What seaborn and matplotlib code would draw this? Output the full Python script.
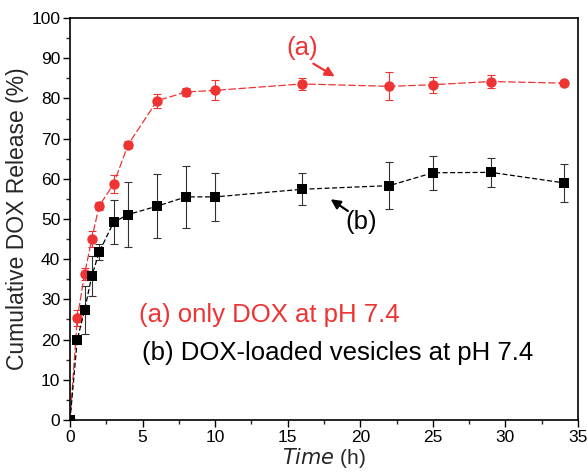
import numpy as np
import pandas as pd
import seaborn as sns
import matplotlib.pyplot as plt
from matplotlib.ticker import MultipleLocator

# Dane
time_h = [0, 0.5, 1, 1.5, 2, 3, 4, 6, 8, 10, 16, 22, 25, 29, 34]
release_a = [0, 25.3, 36.3, 45.0, 53.2, 58.7, 68.5, 79.4, 81.6, 82.0, 83.6, 83.0, 83.4, 84.2, 83.8]
err_a = [0.5, 2.0, 1.5, 2.0, 1.0, 2.2, 0.8, 1.8, 1.0, 2.5, 1.5, 3.5, 2.0, 1.5, 0.5]
release_b = [0, 20.0, 27.3, 35.8, 41.7, 49.2, 51.1, 53.2, 55.5, 55.5, 57.4, 58.3, 61.5, 61.6, 59.0]
err_b = [0.5, 1.0, 6.0, 5.0, 2.0, 5.5, 8.0, 8.0, 7.7, 6.0, 4.0, 5.9, 4.2, 3.6, 4.8]

red = '#ee3333'

sns.set_style("ticks")
plt.rcParams['font.family'] = ['Liberation Sans', 'DejaVu Sans']

fig = plt.figure(figsize=(5.87, 4.75), dpi=100)
ax = fig.add_axes([0.1193, 0.1158, 0.8654, 0.8463])

ax.errorbar(time_h, release_a, yerr=err_a, fmt='none', ecolor=red, elinewidth=0.8, capsize=3, capthick=0.8)
ax.errorbar(time_h, release_b, yerr=err_b, fmt='none', ecolor='#333333', elinewidth=0.8, capsize=3, capthick=0.8)

sns.lineplot(x=time_h, y=release_a, color=red, marker='o', markersize=7.5,
             markeredgewidth=0, linewidth=0.9, dashes=(6, 2), ax=ax)
sns.lineplot(x=time_h, y=release_b, color='black', marker='s', markersize=6.5,
             markeredgewidth=0, linewidth=0.9, dashes=(4, 2), ax=ax)

ax.set_xlim(0, 35)
ax.set_ylim(0, 100)
ax.xaxis.set_major_locator(MultipleLocator(5))
ax.xaxis.set_minor_locator(MultipleLocator(2.5))
ax.yaxis.set_major_locator(MultipleLocator(10))
ax.yaxis.set_minor_locator(MultipleLocator(5))
ax.tick_params(which='major', direction='out', length=5, width=1, labelsize=12.5, colors='black', pad=2)
ax.tick_params(which='minor', direction='out', length=3, width=1)
for s in ax.spines.values():
    s.set_linewidth(1.2)
    s.set_color('black')

ax.set_xlabel(r'$\it{Time}$ (h)', fontsize=15, labelpad=1)
ax.set_ylabel('Cumulative DOX Release (%)', fontsize=16.5, labelpad=2)

# Opisy krzywych
ax.text(16.0, 92.5, '(a)', color=red, fontsize=18.5, ha='center', va='center')
ax.annotate('', xy=(18.4, 85.1), xytext=(16.6, 89.0),
            arrowprops=dict(arrowstyle='-|>', color=red, lw=1.6, mutation_scale=14))
ax.text(20.05, 49.3, '(b)', color='black', fontsize=18.5, ha='center', va='center')
ax.annotate('', xy=(17.8, 55.3), xytext=(19.3, 51.6),
            arrowprops=dict(arrowstyle='-|>', color='black', lw=1.6, mutation_scale=14))

ax.text(4.75, 26.1, '(a) only DOX at pH 7.4', color=red, fontsize=18.5, va='center')
ax.text(4.95, 16.7, '(b) DOX-loaded vesicles at pH 7.4', color='black', fontsize=18.5, va='center')

plt.savefig('out.png', dpi=100)
